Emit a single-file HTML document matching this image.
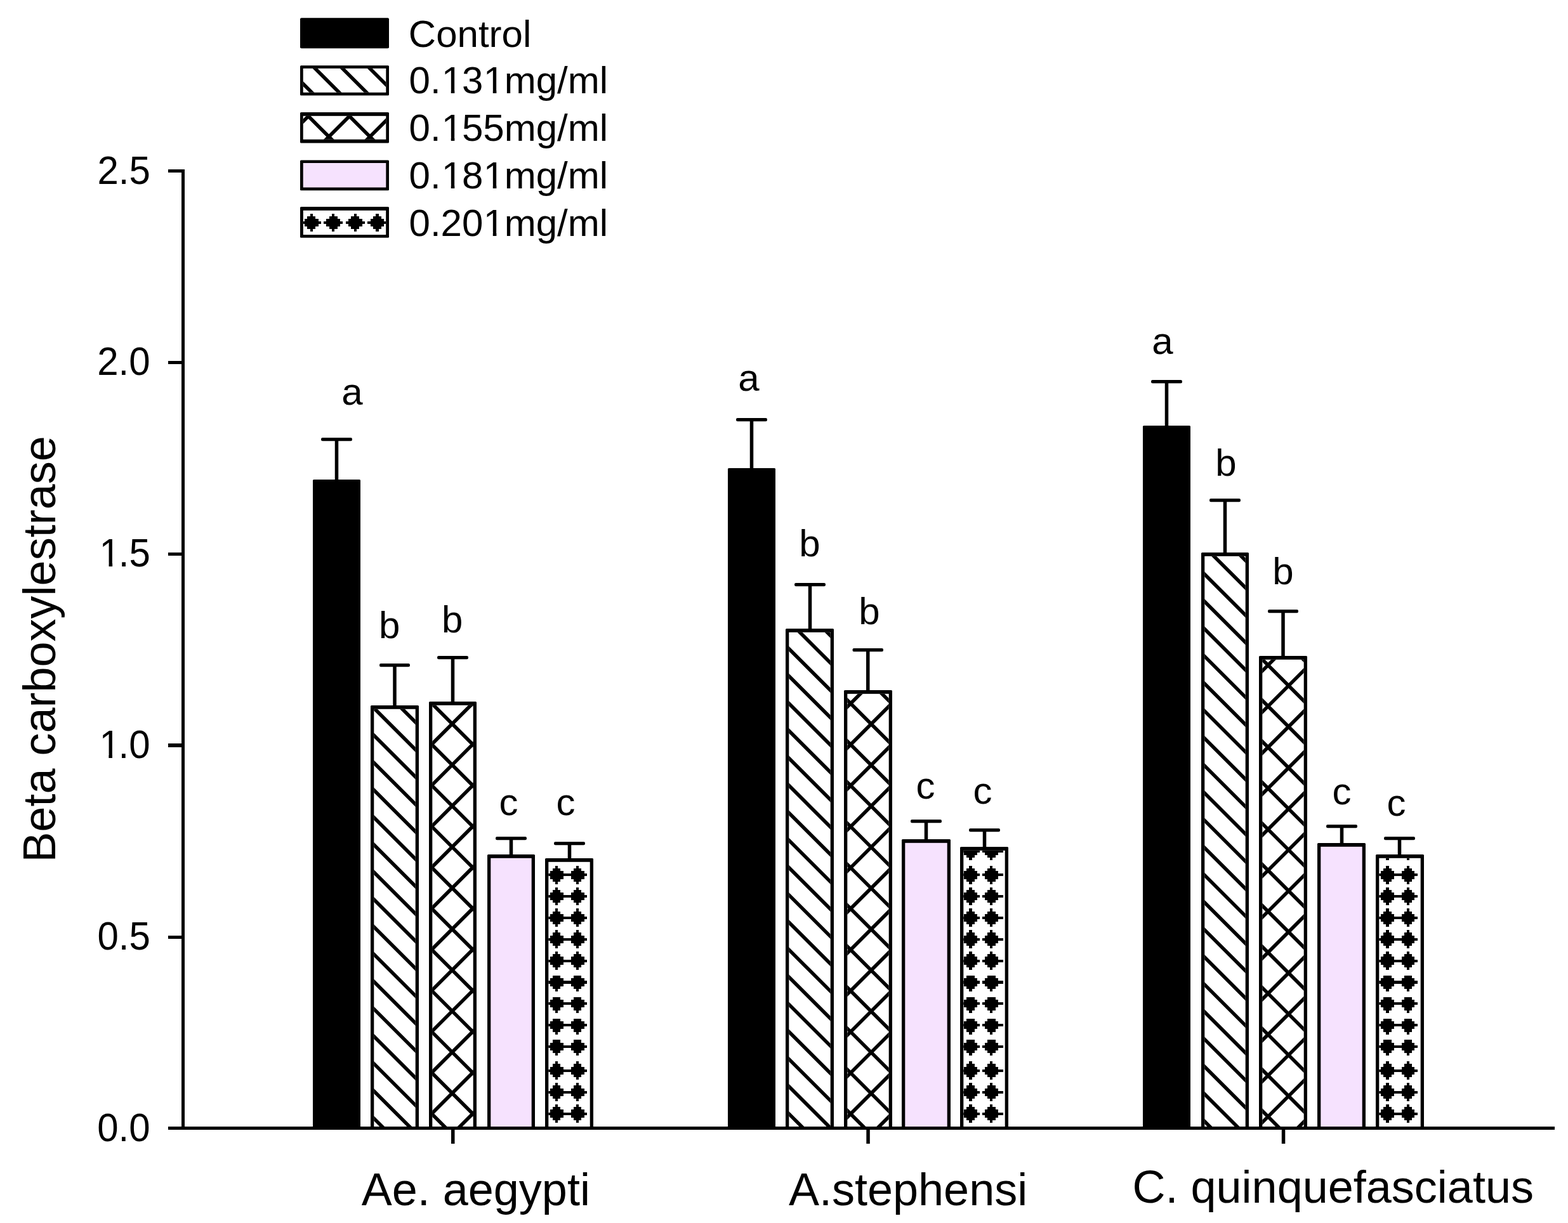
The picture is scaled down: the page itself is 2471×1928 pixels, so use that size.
<!DOCTYPE html>
<html lang="en">
<head>
<meta charset="utf-8">
<title>Beta carboxylestrase activity</title>
<style>
html,body{margin:0;padding:0;background:#fff;}
body{width:2471px;height:1928px;overflow:hidden;}
svg{display:block;}
text{font-family:"Liberation Sans",Arial,Helvetica,sans-serif;fill:#000;}
</style>
</head>
<body>
<svg width="2471" height="1928" viewBox="0 0 2471 1928">
<defs>
<clipPath id="c1"><rect x="589.3" y="1117.8" width="65.4" height="658.2"/></clipPath>
<clipPath id="c2"><rect x="681.3" y="1111.8" width="64.4" height="664.2"/></clipPath>
<clipPath id="c3"><rect x="681.3" y="1111.8" width="64.4" height="664.2"/></clipPath>
<clipPath id="c4"><rect x="864.3" y="1358.8" width="65.4" height="417.2"/></clipPath>
<clipPath id="c5"><rect x="1243.3" y="996.8" width="65.4" height="779.2"/></clipPath>
<clipPath id="c6"><rect x="1335.3" y="1093.8" width="65.4" height="682.2"/></clipPath>
<clipPath id="c7"><rect x="1335.3" y="1093.8" width="65.4" height="682.2"/></clipPath>
<clipPath id="c8"><rect x="1518.3" y="1340.8" width="65.4" height="435.2"/></clipPath>
<clipPath id="c9"><rect x="1898.3" y="876.8" width="64.4" height="899.2"/></clipPath>
<clipPath id="c10"><rect x="1989.3" y="1039.8" width="65.4" height="736.2"/></clipPath>
<clipPath id="c11"><rect x="1989.3" y="1039.8" width="65.4" height="736.2"/></clipPath>
<clipPath id="c12"><rect x="2173.3" y="1352.8" width="65.4" height="423.2"/></clipPath>
<clipPath id="c13"><rect x="477.7" y="107.9" width="130.6" height="37.9"/></clipPath>
<clipPath id="c14"><rect x="477.7" y="182.8" width="130.6" height="37"/></clipPath>
<clipPath id="c15"><rect x="477.7" y="182.8" width="130.6" height="37"/></clipPath>
<clipPath id="c16"><rect x="477.8" y="331.8" width="130.4" height="38.3"/></clipPath>
</defs>
<rect width="2471" height="1928" fill="#fff"/>
<g id="axes">
<rect x="286" y="267" width="5" height="1514" fill="#000"/>
<rect x="265" y="1776" width="2185" height="5" fill="#000"/>
<rect x="265" y="267" width="22" height="5" fill="#000"/>
<rect x="265" y="569" width="22" height="5" fill="#000"/>
<rect x="265" y="871" width="22" height="5" fill="#000"/>
<rect x="265" y="1172" width="22" height="6" fill="#000"/>
<rect x="265" y="1475" width="22" height="5" fill="#000"/>
<rect x="711" y="1780" width="5.5" height="23" fill="#000"/>
<rect x="1365.3" y="1780" width="5.5" height="23" fill="#000"/>
<rect x="2019.8" y="1780" width="5.5" height="23" fill="#000"/>
</g>
<g id="ytick-labels">
<text transform="translate(153.41 289.5) scale(1 1.035)" font-size="60">2.5</text>
<text transform="translate(153.24 591.3) scale(1 1.035)" font-size="60">2.0</text>
<text transform="translate(153.41 893.1) scale(1 1.035)" font-size="60" dx="3.2 -3.2">1.5</text>
<text transform="translate(153.24 1194.9) scale(1 1.035)" font-size="60" dx="3.2 -3.2">1.0</text>
<text transform="translate(153.41 1496.7) scale(1 1.035)" font-size="60">0.5</text>
<text transform="translate(153.24 1798.5) scale(1 1.035)" font-size="60">0.0</text>
<rect x="159.98" y="887.66" width="11.57" height="6.44" fill="#fff"/>
<rect x="177.15" y="887.66" width="11.1" height="6.44" fill="#fff"/>
<rect x="159.81" y="1189.46" width="11.57" height="6.44" fill="#fff"/>
<rect x="176.98" y="1189.46" width="11.1" height="6.44" fill="#fff"/>
</g>
<g class="group">
<rect x="527.75" y="691" width="5.5" height="68" fill="#000"/>
<rect x="506" y="690" width="49" height="5.3" rx="2.2" fill="#000"/>
<rect x="619.25" y="1047" width="5.5" height="68" fill="#000"/>
<rect x="598" y="1046" width="48" height="5.3" rx="2.2" fill="#000"/>
<rect x="710.75" y="1035" width="5.5" height="74" fill="#000"/>
<rect x="689" y="1034" width="49" height="5.3" rx="2.2" fill="#000"/>
<rect x="802.75" y="1320" width="5.5" height="30" fill="#000"/>
<rect x="781" y="1319" width="49" height="5.3" rx="2.2" fill="#000"/>
<rect x="894.75" y="1328" width="5.5" height="28" fill="#000"/>
<rect x="873" y="1327" width="49" height="5.3" rx="2.2" fill="#000"/>
<rect x="493" y="756" width="75" height="1025" rx="1.5" fill="#000"/>
<rect x="584" y="1112" width="76" height="669" rx="1.5" fill="#000"/>
<rect x="589.3" y="1117.8" width="65.4" height="658.2" fill="#fff"/>
<path clip-path="url(#c1)" stroke="#000" stroke-width="5.6" fill="none" d="M579.3 976.83L664.7 1062.23M579.3 1019.96L664.7 1105.36M579.3 1063.09L664.7 1148.49M579.3 1106.22L664.7 1191.62M579.3 1149.35L664.7 1234.75M579.3 1192.48L664.7 1277.88M579.3 1235.61L664.7 1321.01M579.3 1278.74L664.7 1364.14M579.3 1321.87L664.7 1407.27M579.3 1365L664.7 1450.4M579.3 1408.13L664.7 1493.53M579.3 1451.26L664.7 1536.66M579.3 1494.39L664.7 1579.79M579.3 1537.52L664.7 1622.92M579.3 1580.65L664.7 1666.05M579.3 1623.78L664.7 1709.18M579.3 1666.91L664.7 1752.31M579.3 1710.04L664.7 1795.44M579.3 1753.17L664.7 1838.57M579.3 1796.3L664.7 1881.7M579.3 1839.43L664.7 1924.83"/>
<rect x="676" y="1106" width="75" height="675" rx="1.5" fill="#000"/>
<rect x="681.3" y="1111.8" width="64.4" height="664.2" fill="#fff"/>
<path clip-path="url(#c2)" stroke="#000" stroke-width="5.6" fill="none" d="M671.3 970.4L755.7 1054.8M671.3 1035.1L755.7 1119.5M671.3 1099.8L755.7 1184.2M671.3 1164.5L755.7 1248.9M671.3 1229.2L755.7 1313.6M671.3 1293.9L755.7 1378.3M671.3 1358.6L755.7 1443M671.3 1423.3L755.7 1507.7M671.3 1488L755.7 1572.4M671.3 1552.7L755.7 1637.1M671.3 1617.4L755.7 1701.8M671.3 1682.1L755.7 1766.5M671.3 1746.8L755.7 1831.2M671.3 1811.5L755.7 1895.9M671.3 1876.2L755.7 1960.6"/>
<path clip-path="url(#c3)" stroke="#000" stroke-width="5.6" fill="none" d="M671.3 1053L755.7 968.6M671.3 1117.7L755.7 1033.3M671.3 1182.4L755.7 1098M671.3 1247.1L755.7 1162.7M671.3 1311.8L755.7 1227.4M671.3 1376.5L755.7 1292.1M671.3 1441.2L755.7 1356.8M671.3 1505.9L755.7 1421.5M671.3 1570.6L755.7 1486.2M671.3 1635.3L755.7 1550.9M671.3 1700L755.7 1615.6M671.3 1764.7L755.7 1680.3M671.3 1829.4L755.7 1745M671.3 1894.1L755.7 1809.7M671.3 1958.8L755.7 1874.4"/>
<rect x="768" y="1347" width="75" height="434" rx="1.5" fill="#000"/>
<rect x="773.3" y="1352.8" width="64.4" height="423.2" fill="#f6e2fe"/>
<rect x="859" y="1353" width="76" height="428" rx="1.5" fill="#000"/>
<rect x="864.3" y="1358.8" width="65.4" height="417.2" fill="#fff"/>
<path clip-path="url(#c4)" fill="#000" shape-rendering="crispEdges" d="M875.23 1364.95h4.13v4.13h-4.13zM871.1 1369.08h12.39v4.13h-12.39zM866.97 1373.21h20.65v4.13h-20.65zM862.84 1377.34h28.91v4.13h-28.91zM866.97 1381.47h20.65v4.13h-20.65zM871.1 1385.6h12.39v4.13h-12.39zM875.23 1389.73h4.13v4.13h-4.13zM908.13 1364.95h4.13v4.13h-4.13zM904 1369.08h12.39v4.13h-12.39zM899.88 1373.21h20.65v4.13h-20.65zM895.75 1377.34h28.91v4.13h-28.91zM899.88 1381.47h20.65v4.13h-20.65zM904 1385.6h12.39v4.13h-12.39zM908.13 1389.73h4.13v4.13h-4.13zM860 1377.34H924.8v4.13H860zM875.23 1398.55h4.13v4.13h-4.13zM871.1 1402.67h12.39v4.13h-12.39zM866.97 1406.81h20.65v4.13h-20.65zM862.84 1410.93h28.91v4.13h-28.91zM866.97 1415.07h20.65v4.13h-20.65zM871.1 1419.19h12.39v4.13h-12.39zM875.23 1423.33h4.13v4.13h-4.13zM908.13 1398.55h4.13v4.13h-4.13zM904 1402.67h12.39v4.13h-12.39zM899.88 1406.81h20.65v4.13h-20.65zM895.75 1410.93h28.91v4.13h-28.91zM899.88 1415.07h20.65v4.13h-20.65zM904 1419.19h12.39v4.13h-12.39zM908.13 1423.33h4.13v4.13h-4.13zM860 1410.93H924.8v4.13H860zM875.23 1432.45h4.13v4.13h-4.13zM871.1 1436.58h12.39v4.13h-12.39zM866.97 1440.71h20.65v4.13h-20.65zM862.84 1444.84h28.91v4.13h-28.91zM866.97 1448.97h20.65v4.13h-20.65zM871.1 1453.1h12.39v4.13h-12.39zM875.23 1457.23h4.13v4.13h-4.13zM908.13 1432.45h4.13v4.13h-4.13zM904 1436.58h12.39v4.13h-12.39zM899.88 1440.71h20.65v4.13h-20.65zM895.75 1444.84h28.91v4.13h-28.91zM899.88 1448.97h20.65v4.13h-20.65zM904 1453.1h12.39v4.13h-12.39zM908.13 1457.23h4.13v4.13h-4.13zM860 1444.84H924.8v4.13H860zM875.23 1466.25h4.13v4.13h-4.13zM871.1 1470.38h12.39v4.13h-12.39zM866.97 1474.51h20.65v4.13h-20.65zM862.84 1478.63h28.91v4.13h-28.91zM866.97 1482.77h20.65v4.13h-20.65zM871.1 1486.89h12.39v4.13h-12.39zM875.23 1491.03h4.13v4.13h-4.13zM908.13 1466.25h4.13v4.13h-4.13zM904 1470.38h12.39v4.13h-12.39zM899.88 1474.51h20.65v4.13h-20.65zM895.75 1478.63h28.91v4.13h-28.91zM899.88 1482.77h20.65v4.13h-20.65zM904 1486.89h12.39v4.13h-12.39zM908.13 1491.03h4.13v4.13h-4.13zM860 1478.63H924.8v4.13H860zM875.23 1500.14h4.13v4.13h-4.13zM871.1 1504.27h12.39v4.13h-12.39zM866.97 1508.4h20.65v4.13h-20.65zM862.84 1512.53h28.91v4.13h-28.91zM866.97 1516.66h20.65v4.13h-20.65zM871.1 1520.79h12.39v4.13h-12.39zM875.23 1524.92h4.13v4.13h-4.13zM908.13 1500.14h4.13v4.13h-4.13zM904 1504.27h12.39v4.13h-12.39zM899.88 1508.4h20.65v4.13h-20.65zM895.75 1512.53h28.91v4.13h-28.91zM899.88 1516.66h20.65v4.13h-20.65zM904 1520.79h12.39v4.13h-12.39zM908.13 1524.92h4.13v4.13h-4.13zM860 1512.53H924.8v4.13H860zM871.1 1538.17h12.39v4.13h-12.39zM866.97 1542.31h20.65v4.13h-20.65zM862.84 1546.43h28.91v4.13h-28.91zM866.97 1550.57h20.65v4.13h-20.65zM871.1 1554.69h12.39v4.13h-12.39zM875.23 1558.83h4.13v4.13h-4.13zM904 1538.17h12.39v4.13h-12.39zM899.88 1542.31h20.65v4.13h-20.65zM895.75 1546.43h28.91v4.13h-28.91zM899.88 1550.57h20.65v4.13h-20.65zM904 1554.69h12.39v4.13h-12.39zM908.13 1558.83h4.13v4.13h-4.13zM860 1546.43H924.8v4.13H860zM871.1 1571.88h12.39v4.13h-12.39zM866.97 1576.01h20.65v4.13h-20.65zM862.84 1580.13h28.91v4.13h-28.91zM866.97 1584.27h20.65v4.13h-20.65zM871.1 1588.39h12.39v4.13h-12.39zM875.23 1592.53h4.13v4.13h-4.13zM904 1571.88h12.39v4.13h-12.39zM899.88 1576.01h20.65v4.13h-20.65zM895.75 1580.13h28.91v4.13h-28.91zM899.88 1584.27h20.65v4.13h-20.65zM904 1588.39h12.39v4.13h-12.39zM908.13 1592.53h4.13v4.13h-4.13zM860 1580.13H924.8v4.13H860zM871.1 1605.88h12.39v4.13h-12.39zM866.97 1610.01h20.65v4.13h-20.65zM862.84 1614.13h28.91v4.13h-28.91zM866.97 1618.27h20.65v4.13h-20.65zM871.1 1622.39h12.39v4.13h-12.39zM875.23 1626.53h4.13v4.13h-4.13zM904 1605.88h12.39v4.13h-12.39zM899.88 1610.01h20.65v4.13h-20.65zM895.75 1614.13h28.91v4.13h-28.91zM899.88 1618.27h20.65v4.13h-20.65zM904 1622.39h12.39v4.13h-12.39zM908.13 1626.53h4.13v4.13h-4.13zM860 1614.13H924.8v4.13H860zM871.1 1639.38h12.39v4.13h-12.39zM866.97 1643.51h20.65v4.13h-20.65zM862.84 1647.63h28.91v4.13h-28.91zM866.97 1651.77h20.65v4.13h-20.65zM871.1 1655.89h12.39v4.13h-12.39zM875.23 1660.03h4.13v4.13h-4.13zM904 1639.38h12.39v4.13h-12.39zM899.88 1643.51h20.65v4.13h-20.65zM895.75 1647.63h28.91v4.13h-28.91zM899.88 1651.77h20.65v4.13h-20.65zM904 1655.89h12.39v4.13h-12.39zM908.13 1660.03h4.13v4.13h-4.13zM860 1647.63H924.8v4.13H860zM875.23 1673.35h4.13v4.13h-4.13zM871.1 1677.47h12.39v4.13h-12.39zM866.97 1681.61h20.65v4.13h-20.65zM862.84 1685.73h28.91v4.13h-28.91zM866.97 1689.87h20.65v4.13h-20.65zM871.1 1693.99h12.39v4.13h-12.39zM875.23 1698.12h4.13v4.13h-4.13zM908.13 1673.35h4.13v4.13h-4.13zM904 1677.47h12.39v4.13h-12.39zM899.88 1681.61h20.65v4.13h-20.65zM895.75 1685.73h28.91v4.13h-28.91zM899.88 1689.87h20.65v4.13h-20.65zM904 1693.99h12.39v4.13h-12.39zM908.13 1698.12h4.13v4.13h-4.13zM860 1685.73H924.8v4.13H860zM875.23 1707.25h4.13v4.13h-4.13zM871.1 1711.38h12.39v4.13h-12.39zM866.97 1715.51h20.65v4.13h-20.65zM862.84 1719.63h28.91v4.13h-28.91zM866.97 1723.77h20.65v4.13h-20.65zM871.1 1727.89h12.39v4.13h-12.39zM875.23 1732.03h4.13v4.13h-4.13zM908.13 1707.25h4.13v4.13h-4.13zM904 1711.38h12.39v4.13h-12.39zM899.88 1715.51h20.65v4.13h-20.65zM895.75 1719.63h28.91v4.13h-28.91zM899.88 1723.77h20.65v4.13h-20.65zM904 1727.89h12.39v4.13h-12.39zM908.13 1732.03h4.13v4.13h-4.13zM860 1719.63H924.8v4.13H860zM875.23 1741.14h4.13v4.13h-4.13zM871.1 1745.27h12.39v4.13h-12.39zM866.97 1749.4h20.65v4.13h-20.65zM862.84 1753.53h28.91v4.13h-28.91zM866.97 1757.66h20.65v4.13h-20.65zM871.1 1761.79h12.39v4.13h-12.39zM875.23 1765.92h4.13v4.13h-4.13zM908.13 1741.14h4.13v4.13h-4.13zM904 1745.27h12.39v4.13h-12.39zM899.88 1749.4h20.65v4.13h-20.65zM895.75 1753.53h28.91v4.13h-28.91zM899.88 1757.66h20.65v4.13h-20.65zM904 1761.79h12.39v4.13h-12.39zM908.13 1765.92h4.13v4.13h-4.13zM860 1753.53H924.8v4.13H860z"/>
</g>
<g class="group">
<rect x="1181.75" y="660" width="5.5" height="81" fill="#000"/>
<rect x="1160" y="659" width="49" height="5.3" rx="2.2" fill="#000"/>
<rect x="1273.75" y="920" width="5.5" height="74" fill="#000"/>
<rect x="1252" y="919" width="49" height="5.3" rx="2.2" fill="#000"/>
<rect x="1365" y="1023" width="5.5" height="68" fill="#000"/>
<rect x="1343.5" y="1022" width="48.5" height="5.3" rx="2.2" fill="#000"/>
<rect x="1456.75" y="1293" width="5.5" height="33" fill="#000"/>
<rect x="1435" y="1292" width="49" height="5.3" rx="2.2" fill="#000"/>
<rect x="1548.75" y="1307" width="5.5" height="31" fill="#000"/>
<rect x="1527" y="1306" width="49" height="5.3" rx="2.2" fill="#000"/>
<rect x="1147" y="738" width="75" height="1043" rx="1.5" fill="#000"/>
<rect x="1238" y="991" width="76" height="790" rx="1.5" fill="#000"/>
<rect x="1243.3" y="996.8" width="65.4" height="779.2" fill="#fff"/>
<path clip-path="url(#c5)" stroke="#000" stroke-width="5.6" fill="none" d="M1233.3 840.21L1318.7 925.61M1233.3 883.34L1318.7 968.74M1233.3 926.47L1318.7 1011.87M1233.3 969.6L1318.7 1055M1233.3 1012.73L1318.7 1098.13M1233.3 1055.86L1318.7 1141.26M1233.3 1098.99L1318.7 1184.39M1233.3 1142.12L1318.7 1227.52M1233.3 1185.25L1318.7 1270.65M1233.3 1228.38L1318.7 1313.78M1233.3 1271.51L1318.7 1356.91M1233.3 1314.64L1318.7 1400.04M1233.3 1357.77L1318.7 1443.17M1233.3 1400.9L1318.7 1486.3M1233.3 1444.03L1318.7 1529.43M1233.3 1487.16L1318.7 1572.56M1233.3 1530.29L1318.7 1615.69M1233.3 1573.42L1318.7 1658.82M1233.3 1616.55L1318.7 1701.95M1233.3 1659.68L1318.7 1745.08M1233.3 1702.81L1318.7 1788.21M1233.3 1745.94L1318.7 1831.34M1233.3 1789.07L1318.7 1874.47M1233.3 1832.2L1318.7 1917.6"/>
<rect x="1330" y="1088" width="76" height="693" rx="1.5" fill="#000"/>
<rect x="1335.3" y="1093.8" width="65.4" height="682.2" fill="#fff"/>
<path clip-path="url(#c6)" stroke="#000" stroke-width="5.6" fill="none" d="M1325.3 899.75L1410.7 985.15M1325.3 964.45L1410.7 1049.85M1325.3 1029.15L1410.7 1114.55M1325.3 1093.85L1410.7 1179.25M1325.3 1158.55L1410.7 1243.95M1325.3 1223.25L1410.7 1308.65M1325.3 1287.95L1410.7 1373.35M1325.3 1352.65L1410.7 1438.05M1325.3 1417.35L1410.7 1502.75M1325.3 1482.05L1410.7 1567.45M1325.3 1546.75L1410.7 1632.15M1325.3 1611.45L1410.7 1696.85M1325.3 1676.15L1410.7 1761.55M1325.3 1740.85L1410.7 1826.25M1325.3 1805.55L1410.7 1890.95M1325.3 1870.25L1410.7 1955.65"/>
<path clip-path="url(#c7)" stroke="#000" stroke-width="5.6" fill="none" d="M1325.3 994.85L1410.7 909.45M1325.3 1059.55L1410.7 974.15M1325.3 1124.25L1410.7 1038.85M1325.3 1188.95L1410.7 1103.55M1325.3 1253.65L1410.7 1168.25M1325.3 1318.35L1410.7 1232.95M1325.3 1383.05L1410.7 1297.65M1325.3 1447.75L1410.7 1362.35M1325.3 1512.45L1410.7 1427.05M1325.3 1577.15L1410.7 1491.75M1325.3 1641.85L1410.7 1556.45M1325.3 1706.55L1410.7 1621.15M1325.3 1771.25L1410.7 1685.85M1325.3 1835.95L1410.7 1750.55M1325.3 1900.65L1410.7 1815.25M1325.3 1965.35L1410.7 1879.95"/>
<rect x="1421" y="1323" width="77" height="458" rx="1.5" fill="#000"/>
<rect x="1426.3" y="1328.8" width="66.4" height="447.2" fill="#f6e2fe"/>
<rect x="1513" y="1335" width="76" height="446" rx="1.5" fill="#000"/>
<rect x="1518.3" y="1340.8" width="65.4" height="435.2" fill="#fff"/>
<path clip-path="url(#c8)" fill="#000" shape-rendering="crispEdges" d="M1527.43 1327.25h4.13v4.13h-4.13zM1523.31 1331.38h12.39v4.13h-12.39zM1519.17 1335.51h20.65v4.13h-20.65zM1515.05 1339.63h28.91v4.13h-28.91zM1519.17 1343.77h20.65v4.13h-20.65zM1523.31 1347.89h12.39v4.13h-12.39zM1527.43 1352.03h4.13v4.13h-4.13zM1560.34 1327.25h4.13v4.13h-4.13zM1556.21 1331.38h12.39v4.13h-12.39zM1552.08 1335.51h20.65v4.13h-20.65zM1547.95 1339.63h28.91v4.13h-28.91zM1552.08 1343.77h20.65v4.13h-20.65zM1556.21 1347.89h12.39v4.13h-12.39zM1560.34 1352.03h4.13v4.13h-4.13zM1514 1339.63H1544v4.13H1514zM1548.5 1339.63H1580.8v4.13H1548.5zM1527.43 1364.95h4.13v4.13h-4.13zM1523.31 1369.08h12.39v4.13h-12.39zM1519.17 1373.21h20.65v4.13h-20.65zM1515.05 1377.34h28.91v4.13h-28.91zM1519.17 1381.47h20.65v4.13h-20.65zM1523.31 1385.6h12.39v4.13h-12.39zM1527.43 1389.73h4.13v4.13h-4.13zM1560.34 1364.95h4.13v4.13h-4.13zM1556.21 1369.08h12.39v4.13h-12.39zM1552.08 1373.21h20.65v4.13h-20.65zM1547.95 1377.34h28.91v4.13h-28.91zM1552.08 1381.47h20.65v4.13h-20.65zM1556.21 1385.6h12.39v4.13h-12.39zM1560.34 1389.73h4.13v4.13h-4.13zM1514 1377.34H1544v4.13H1514zM1548.5 1377.34H1580.8v4.13H1548.5zM1527.43 1398.55h4.13v4.13h-4.13zM1523.31 1402.67h12.39v4.13h-12.39zM1519.17 1406.81h20.65v4.13h-20.65zM1515.05 1410.93h28.91v4.13h-28.91zM1519.17 1415.07h20.65v4.13h-20.65zM1523.31 1419.19h12.39v4.13h-12.39zM1527.43 1423.33h4.13v4.13h-4.13zM1560.34 1398.55h4.13v4.13h-4.13zM1556.21 1402.67h12.39v4.13h-12.39zM1552.08 1406.81h20.65v4.13h-20.65zM1547.95 1410.93h28.91v4.13h-28.91zM1552.08 1415.07h20.65v4.13h-20.65zM1556.21 1419.19h12.39v4.13h-12.39zM1560.34 1423.33h4.13v4.13h-4.13zM1514 1410.93H1544v4.13H1514zM1548.5 1410.93H1580.8v4.13H1548.5zM1527.43 1432.45h4.13v4.13h-4.13zM1523.31 1436.58h12.39v4.13h-12.39zM1519.17 1440.71h20.65v4.13h-20.65zM1515.05 1444.84h28.91v4.13h-28.91zM1519.17 1448.97h20.65v4.13h-20.65zM1523.31 1453.1h12.39v4.13h-12.39zM1527.43 1457.23h4.13v4.13h-4.13zM1560.34 1432.45h4.13v4.13h-4.13zM1556.21 1436.58h12.39v4.13h-12.39zM1552.08 1440.71h20.65v4.13h-20.65zM1547.95 1444.84h28.91v4.13h-28.91zM1552.08 1448.97h20.65v4.13h-20.65zM1556.21 1453.1h12.39v4.13h-12.39zM1560.34 1457.23h4.13v4.13h-4.13zM1514 1444.84H1544v4.13H1514zM1548.5 1444.84H1580.8v4.13H1548.5zM1527.43 1466.25h4.13v4.13h-4.13zM1523.31 1470.38h12.39v4.13h-12.39zM1519.17 1474.51h20.65v4.13h-20.65zM1515.05 1478.63h28.91v4.13h-28.91zM1519.17 1482.77h20.65v4.13h-20.65zM1523.31 1486.89h12.39v4.13h-12.39zM1527.43 1491.03h4.13v4.13h-4.13zM1560.34 1466.25h4.13v4.13h-4.13zM1556.21 1470.38h12.39v4.13h-12.39zM1552.08 1474.51h20.65v4.13h-20.65zM1547.95 1478.63h28.91v4.13h-28.91zM1552.08 1482.77h20.65v4.13h-20.65zM1556.21 1486.89h12.39v4.13h-12.39zM1560.34 1491.03h4.13v4.13h-4.13zM1514 1478.63H1544v4.13H1514zM1548.5 1478.63H1580.8v4.13H1548.5zM1527.43 1500.14h4.13v4.13h-4.13zM1523.31 1504.27h12.39v4.13h-12.39zM1519.17 1508.4h20.65v4.13h-20.65zM1515.05 1512.53h28.91v4.13h-28.91zM1519.17 1516.66h20.65v4.13h-20.65zM1523.31 1520.79h12.39v4.13h-12.39zM1527.43 1524.92h4.13v4.13h-4.13zM1560.34 1500.14h4.13v4.13h-4.13zM1556.21 1504.27h12.39v4.13h-12.39zM1552.08 1508.4h20.65v4.13h-20.65zM1547.95 1512.53h28.91v4.13h-28.91zM1552.08 1516.66h20.65v4.13h-20.65zM1556.21 1520.79h12.39v4.13h-12.39zM1560.34 1524.92h4.13v4.13h-4.13zM1514 1512.53H1544v4.13H1514zM1548.5 1512.53H1580.8v4.13H1548.5zM1523.31 1538.17h12.39v4.13h-12.39zM1519.17 1542.31h20.65v4.13h-20.65zM1515.05 1546.43h28.91v4.13h-28.91zM1519.17 1550.57h20.65v4.13h-20.65zM1523.31 1554.69h12.39v4.13h-12.39zM1527.43 1558.83h4.13v4.13h-4.13zM1556.21 1538.17h12.39v4.13h-12.39zM1552.08 1542.31h20.65v4.13h-20.65zM1547.95 1546.43h28.91v4.13h-28.91zM1552.08 1550.57h20.65v4.13h-20.65zM1556.21 1554.69h12.39v4.13h-12.39zM1560.34 1558.83h4.13v4.13h-4.13zM1514 1546.43H1544v4.13H1514zM1548.5 1546.43H1580.8v4.13H1548.5zM1523.31 1571.88h12.39v4.13h-12.39zM1519.17 1576.01h20.65v4.13h-20.65zM1515.05 1580.13h28.91v4.13h-28.91zM1519.17 1584.27h20.65v4.13h-20.65zM1523.31 1588.39h12.39v4.13h-12.39zM1527.43 1592.53h4.13v4.13h-4.13zM1556.21 1571.88h12.39v4.13h-12.39zM1552.08 1576.01h20.65v4.13h-20.65zM1547.95 1580.13h28.91v4.13h-28.91zM1552.08 1584.27h20.65v4.13h-20.65zM1556.21 1588.39h12.39v4.13h-12.39zM1560.34 1592.53h4.13v4.13h-4.13zM1514 1580.13H1544v4.13H1514zM1548.5 1580.13H1580.8v4.13H1548.5zM1523.31 1605.88h12.39v4.13h-12.39zM1519.17 1610.01h20.65v4.13h-20.65zM1515.05 1614.13h28.91v4.13h-28.91zM1519.17 1618.27h20.65v4.13h-20.65zM1523.31 1622.39h12.39v4.13h-12.39zM1527.43 1626.53h4.13v4.13h-4.13zM1556.21 1605.88h12.39v4.13h-12.39zM1552.08 1610.01h20.65v4.13h-20.65zM1547.95 1614.13h28.91v4.13h-28.91zM1552.08 1618.27h20.65v4.13h-20.65zM1556.21 1622.39h12.39v4.13h-12.39zM1560.34 1626.53h4.13v4.13h-4.13zM1514 1614.13H1544v4.13H1514zM1548.5 1614.13H1580.8v4.13H1548.5zM1523.31 1639.38h12.39v4.13h-12.39zM1519.17 1643.51h20.65v4.13h-20.65zM1515.05 1647.63h28.91v4.13h-28.91zM1519.17 1651.77h20.65v4.13h-20.65zM1523.31 1655.89h12.39v4.13h-12.39zM1527.43 1660.03h4.13v4.13h-4.13zM1556.21 1639.38h12.39v4.13h-12.39zM1552.08 1643.51h20.65v4.13h-20.65zM1547.95 1647.63h28.91v4.13h-28.91zM1552.08 1651.77h20.65v4.13h-20.65zM1556.21 1655.89h12.39v4.13h-12.39zM1560.34 1660.03h4.13v4.13h-4.13zM1514 1647.63H1544v4.13H1514zM1548.5 1647.63H1580.8v4.13H1548.5zM1527.43 1673.35h4.13v4.13h-4.13zM1523.31 1677.47h12.39v4.13h-12.39zM1519.17 1681.61h20.65v4.13h-20.65zM1515.05 1685.73h28.91v4.13h-28.91zM1519.17 1689.87h20.65v4.13h-20.65zM1523.31 1693.99h12.39v4.13h-12.39zM1527.43 1698.12h4.13v4.13h-4.13zM1560.34 1673.35h4.13v4.13h-4.13zM1556.21 1677.47h12.39v4.13h-12.39zM1552.08 1681.61h20.65v4.13h-20.65zM1547.95 1685.73h28.91v4.13h-28.91zM1552.08 1689.87h20.65v4.13h-20.65zM1556.21 1693.99h12.39v4.13h-12.39zM1560.34 1698.12h4.13v4.13h-4.13zM1514 1685.73H1544v4.13H1514zM1548.5 1685.73H1580.8v4.13H1548.5zM1527.43 1707.25h4.13v4.13h-4.13zM1523.31 1711.38h12.39v4.13h-12.39zM1519.17 1715.51h20.65v4.13h-20.65zM1515.05 1719.63h28.91v4.13h-28.91zM1519.17 1723.77h20.65v4.13h-20.65zM1523.31 1727.89h12.39v4.13h-12.39zM1527.43 1732.03h4.13v4.13h-4.13zM1560.34 1707.25h4.13v4.13h-4.13zM1556.21 1711.38h12.39v4.13h-12.39zM1552.08 1715.51h20.65v4.13h-20.65zM1547.95 1719.63h28.91v4.13h-28.91zM1552.08 1723.77h20.65v4.13h-20.65zM1556.21 1727.89h12.39v4.13h-12.39zM1560.34 1732.03h4.13v4.13h-4.13zM1514 1719.63H1544v4.13H1514zM1548.5 1719.63H1580.8v4.13H1548.5zM1527.43 1741.14h4.13v4.13h-4.13zM1523.31 1745.27h12.39v4.13h-12.39zM1519.17 1749.4h20.65v4.13h-20.65zM1515.05 1753.53h28.91v4.13h-28.91zM1519.17 1757.66h20.65v4.13h-20.65zM1523.31 1761.79h12.39v4.13h-12.39zM1527.43 1765.92h4.13v4.13h-4.13zM1560.34 1741.14h4.13v4.13h-4.13zM1556.21 1745.27h12.39v4.13h-12.39zM1552.08 1749.4h20.65v4.13h-20.65zM1547.95 1753.53h28.91v4.13h-28.91zM1552.08 1757.66h20.65v4.13h-20.65zM1556.21 1761.79h12.39v4.13h-12.39zM1560.34 1765.92h4.13v4.13h-4.13zM1514 1753.53H1544v4.13H1514zM1548.5 1753.53H1580.8v4.13H1548.5z"/>
</g>
<g class="group">
<rect x="1835.75" y="600" width="5.5" height="74" fill="#000"/>
<rect x="1814" y="599" width="49" height="5.3" rx="2.2" fill="#000"/>
<rect x="1927.75" y="787" width="5.5" height="87" fill="#000"/>
<rect x="1906" y="786" width="49" height="5.3" rx="2.2" fill="#000"/>
<rect x="2019.25" y="962" width="5.5" height="75" fill="#000"/>
<rect x="1998" y="961" width="48" height="5.3" rx="2.2" fill="#000"/>
<rect x="2111.75" y="1301" width="5.5" height="31" fill="#000"/>
<rect x="2090" y="1300" width="49" height="5.3" rx="2.2" fill="#000"/>
<rect x="2202.75" y="1320" width="5.5" height="30" fill="#000"/>
<rect x="2181" y="1319" width="49" height="5.3" rx="2.2" fill="#000"/>
<rect x="1801" y="671" width="75" height="1110" rx="1.5" fill="#000"/>
<rect x="1893" y="871" width="75" height="910" rx="1.5" fill="#000"/>
<rect x="1898.3" y="876.8" width="64.4" height="899.2" fill="#fff"/>
<path clip-path="url(#c9)" stroke="#000" stroke-width="5.6" fill="none" d="M1888.3 722.73L1972.7 807.13M1888.3 765.86L1972.7 850.26M1888.3 808.99L1972.7 893.39M1888.3 852.12L1972.7 936.52M1888.3 895.25L1972.7 979.65M1888.3 938.38L1972.7 1022.78M1888.3 981.51L1972.7 1065.91M1888.3 1024.64L1972.7 1109.04M1888.3 1067.77L1972.7 1152.17M1888.3 1110.9L1972.7 1195.3M1888.3 1154.03L1972.7 1238.43M1888.3 1197.16L1972.7 1281.56M1888.3 1240.29L1972.7 1324.69M1888.3 1283.42L1972.7 1367.82M1888.3 1326.55L1972.7 1410.95M1888.3 1369.68L1972.7 1454.08M1888.3 1412.81L1972.7 1497.21M1888.3 1455.94L1972.7 1540.34M1888.3 1499.07L1972.7 1583.47M1888.3 1542.2L1972.7 1626.6M1888.3 1585.33L1972.7 1669.73M1888.3 1628.46L1972.7 1712.86M1888.3 1671.59L1972.7 1755.99M1888.3 1714.72L1972.7 1799.12M1888.3 1757.85L1972.7 1842.25M1888.3 1800.98L1972.7 1885.38M1888.3 1844.11L1972.7 1928.51"/>
<rect x="1984" y="1034" width="76" height="747" rx="1.5" fill="#000"/>
<rect x="1989.3" y="1039.8" width="65.4" height="736.2" fill="#fff"/>
<path clip-path="url(#c10)" stroke="#000" stroke-width="5.6" fill="none" d="M1979.3 835.5L2064.7 920.9M1979.3 900.2L2064.7 985.6M1979.3 964.9L2064.7 1050.3M1979.3 1029.6L2064.7 1115M1979.3 1094.3L2064.7 1179.7M1979.3 1159L2064.7 1244.4M1979.3 1223.7L2064.7 1309.1M1979.3 1288.4L2064.7 1373.8M1979.3 1353.1L2064.7 1438.5M1979.3 1417.8L2064.7 1503.2M1979.3 1482.5L2064.7 1567.9M1979.3 1547.2L2064.7 1632.6M1979.3 1611.9L2064.7 1697.3M1979.3 1676.6L2064.7 1762M1979.3 1741.3L2064.7 1826.7M1979.3 1806L2064.7 1891.4M1979.3 1870.7L2064.7 1956.1"/>
<path clip-path="url(#c11)" stroke="#000" stroke-width="5.6" fill="none" d="M1979.3 938.2L2064.7 852.8M1979.3 1002.9L2064.7 917.5M1979.3 1067.6L2064.7 982.2M1979.3 1132.3L2064.7 1046.9M1979.3 1197L2064.7 1111.6M1979.3 1261.7L2064.7 1176.3M1979.3 1326.4L2064.7 1241M1979.3 1391.1L2064.7 1305.7M1979.3 1455.8L2064.7 1370.4M1979.3 1520.5L2064.7 1435.1M1979.3 1585.2L2064.7 1499.8M1979.3 1649.9L2064.7 1564.5M1979.3 1714.6L2064.7 1629.2M1979.3 1779.3L2064.7 1693.9M1979.3 1844L2064.7 1758.6M1979.3 1908.7L2064.7 1823.3M1979.3 1973.4L2064.7 1888"/>
<rect x="2076" y="1329" width="76" height="452" rx="1.5" fill="#000"/>
<rect x="2081.3" y="1334.8" width="65.4" height="441.2" fill="#f6e2fe"/>
<rect x="2168" y="1347" width="76" height="434" rx="1.5" fill="#000"/>
<rect x="2173.3" y="1352.8" width="65.4" height="423.2" fill="#fff"/>
<path clip-path="url(#c12)" fill="#000" shape-rendering="crispEdges" d="M2184.43 1327.25h4.13v4.13h-4.13zM2180.3 1331.38h12.39v4.13h-12.39zM2176.18 1335.51h20.65v4.13h-20.65zM2172.05 1339.63h28.91v4.13h-28.91zM2176.18 1343.77h20.65v4.13h-20.65zM2180.3 1347.89h12.39v4.13h-12.39zM2184.43 1352.03h4.13v4.13h-4.13zM2217.03 1327.25h4.13v4.13h-4.13zM2212.9 1331.38h12.39v4.13h-12.39zM2208.78 1335.51h20.65v4.13h-20.65zM2204.64 1339.63h28.91v4.13h-28.91zM2208.78 1343.77h20.65v4.13h-20.65zM2212.9 1347.89h12.39v4.13h-12.39zM2217.03 1352.03h4.13v4.13h-4.13zM2169 1339.63H2233.9v4.13H2169zM2184.43 1364.95h4.13v4.13h-4.13zM2180.3 1369.08h12.39v4.13h-12.39zM2176.18 1373.21h20.65v4.13h-20.65zM2172.05 1377.34h28.91v4.13h-28.91zM2176.18 1381.47h20.65v4.13h-20.65zM2180.3 1385.6h12.39v4.13h-12.39zM2184.43 1389.73h4.13v4.13h-4.13zM2217.03 1364.95h4.13v4.13h-4.13zM2212.9 1369.08h12.39v4.13h-12.39zM2208.78 1373.21h20.65v4.13h-20.65zM2204.64 1377.34h28.91v4.13h-28.91zM2208.78 1381.47h20.65v4.13h-20.65zM2212.9 1385.6h12.39v4.13h-12.39zM2217.03 1389.73h4.13v4.13h-4.13zM2169 1377.34H2233.9v4.13H2169zM2184.43 1398.55h4.13v4.13h-4.13zM2180.3 1402.67h12.39v4.13h-12.39zM2176.18 1406.81h20.65v4.13h-20.65zM2172.05 1410.93h28.91v4.13h-28.91zM2176.18 1415.07h20.65v4.13h-20.65zM2180.3 1419.19h12.39v4.13h-12.39zM2184.43 1423.33h4.13v4.13h-4.13zM2217.03 1398.55h4.13v4.13h-4.13zM2212.9 1402.67h12.39v4.13h-12.39zM2208.78 1406.81h20.65v4.13h-20.65zM2204.64 1410.93h28.91v4.13h-28.91zM2208.78 1415.07h20.65v4.13h-20.65zM2212.9 1419.19h12.39v4.13h-12.39zM2217.03 1423.33h4.13v4.13h-4.13zM2169 1410.93H2233.9v4.13H2169zM2184.43 1432.45h4.13v4.13h-4.13zM2180.3 1436.58h12.39v4.13h-12.39zM2176.18 1440.71h20.65v4.13h-20.65zM2172.05 1444.84h28.91v4.13h-28.91zM2176.18 1448.97h20.65v4.13h-20.65zM2180.3 1453.1h12.39v4.13h-12.39zM2184.43 1457.23h4.13v4.13h-4.13zM2217.03 1432.45h4.13v4.13h-4.13zM2212.9 1436.58h12.39v4.13h-12.39zM2208.78 1440.71h20.65v4.13h-20.65zM2204.64 1444.84h28.91v4.13h-28.91zM2208.78 1448.97h20.65v4.13h-20.65zM2212.9 1453.1h12.39v4.13h-12.39zM2217.03 1457.23h4.13v4.13h-4.13zM2169 1444.84H2233.9v4.13H2169zM2184.43 1466.25h4.13v4.13h-4.13zM2180.3 1470.38h12.39v4.13h-12.39zM2176.18 1474.51h20.65v4.13h-20.65zM2172.05 1478.63h28.91v4.13h-28.91zM2176.18 1482.77h20.65v4.13h-20.65zM2180.3 1486.89h12.39v4.13h-12.39zM2184.43 1491.03h4.13v4.13h-4.13zM2217.03 1466.25h4.13v4.13h-4.13zM2212.9 1470.38h12.39v4.13h-12.39zM2208.78 1474.51h20.65v4.13h-20.65zM2204.64 1478.63h28.91v4.13h-28.91zM2208.78 1482.77h20.65v4.13h-20.65zM2212.9 1486.89h12.39v4.13h-12.39zM2217.03 1491.03h4.13v4.13h-4.13zM2169 1478.63H2233.9v4.13H2169zM2184.43 1500.14h4.13v4.13h-4.13zM2180.3 1504.27h12.39v4.13h-12.39zM2176.18 1508.4h20.65v4.13h-20.65zM2172.05 1512.53h28.91v4.13h-28.91zM2176.18 1516.66h20.65v4.13h-20.65zM2180.3 1520.79h12.39v4.13h-12.39zM2184.43 1524.92h4.13v4.13h-4.13zM2217.03 1500.14h4.13v4.13h-4.13zM2212.9 1504.27h12.39v4.13h-12.39zM2208.78 1508.4h20.65v4.13h-20.65zM2204.64 1512.53h28.91v4.13h-28.91zM2208.78 1516.66h20.65v4.13h-20.65zM2212.9 1520.79h12.39v4.13h-12.39zM2217.03 1524.92h4.13v4.13h-4.13zM2169 1512.53H2233.9v4.13H2169zM2180.3 1538.17h12.39v4.13h-12.39zM2176.18 1542.31h20.65v4.13h-20.65zM2172.05 1546.43h28.91v4.13h-28.91zM2176.18 1550.57h20.65v4.13h-20.65zM2180.3 1554.69h12.39v4.13h-12.39zM2184.43 1558.83h4.13v4.13h-4.13zM2212.9 1538.17h12.39v4.13h-12.39zM2208.78 1542.31h20.65v4.13h-20.65zM2204.64 1546.43h28.91v4.13h-28.91zM2208.78 1550.57h20.65v4.13h-20.65zM2212.9 1554.69h12.39v4.13h-12.39zM2217.03 1558.83h4.13v4.13h-4.13zM2169 1546.43H2233.9v4.13H2169zM2180.3 1571.88h12.39v4.13h-12.39zM2176.18 1576.01h20.65v4.13h-20.65zM2172.05 1580.13h28.91v4.13h-28.91zM2176.18 1584.27h20.65v4.13h-20.65zM2180.3 1588.39h12.39v4.13h-12.39zM2184.43 1592.53h4.13v4.13h-4.13zM2212.9 1571.88h12.39v4.13h-12.39zM2208.78 1576.01h20.65v4.13h-20.65zM2204.64 1580.13h28.91v4.13h-28.91zM2208.78 1584.27h20.65v4.13h-20.65zM2212.9 1588.39h12.39v4.13h-12.39zM2217.03 1592.53h4.13v4.13h-4.13zM2169 1580.13H2233.9v4.13H2169zM2180.3 1605.88h12.39v4.13h-12.39zM2176.18 1610.01h20.65v4.13h-20.65zM2172.05 1614.13h28.91v4.13h-28.91zM2176.18 1618.27h20.65v4.13h-20.65zM2180.3 1622.39h12.39v4.13h-12.39zM2184.43 1626.53h4.13v4.13h-4.13zM2212.9 1605.88h12.39v4.13h-12.39zM2208.78 1610.01h20.65v4.13h-20.65zM2204.64 1614.13h28.91v4.13h-28.91zM2208.78 1618.27h20.65v4.13h-20.65zM2212.9 1622.39h12.39v4.13h-12.39zM2217.03 1626.53h4.13v4.13h-4.13zM2169 1614.13H2233.9v4.13H2169zM2180.3 1639.38h12.39v4.13h-12.39zM2176.18 1643.51h20.65v4.13h-20.65zM2172.05 1647.63h28.91v4.13h-28.91zM2176.18 1651.77h20.65v4.13h-20.65zM2180.3 1655.89h12.39v4.13h-12.39zM2184.43 1660.03h4.13v4.13h-4.13zM2212.9 1639.38h12.39v4.13h-12.39zM2208.78 1643.51h20.65v4.13h-20.65zM2204.64 1647.63h28.91v4.13h-28.91zM2208.78 1651.77h20.65v4.13h-20.65zM2212.9 1655.89h12.39v4.13h-12.39zM2217.03 1660.03h4.13v4.13h-4.13zM2169 1647.63H2233.9v4.13H2169zM2184.43 1673.35h4.13v4.13h-4.13zM2180.3 1677.47h12.39v4.13h-12.39zM2176.18 1681.61h20.65v4.13h-20.65zM2172.05 1685.73h28.91v4.13h-28.91zM2176.18 1689.87h20.65v4.13h-20.65zM2180.3 1693.99h12.39v4.13h-12.39zM2184.43 1698.12h4.13v4.13h-4.13zM2217.03 1673.35h4.13v4.13h-4.13zM2212.9 1677.47h12.39v4.13h-12.39zM2208.78 1681.61h20.65v4.13h-20.65zM2204.64 1685.73h28.91v4.13h-28.91zM2208.78 1689.87h20.65v4.13h-20.65zM2212.9 1693.99h12.39v4.13h-12.39zM2217.03 1698.12h4.13v4.13h-4.13zM2169 1685.73H2233.9v4.13H2169zM2184.43 1707.25h4.13v4.13h-4.13zM2180.3 1711.38h12.39v4.13h-12.39zM2176.18 1715.51h20.65v4.13h-20.65zM2172.05 1719.63h28.91v4.13h-28.91zM2176.18 1723.77h20.65v4.13h-20.65zM2180.3 1727.89h12.39v4.13h-12.39zM2184.43 1732.03h4.13v4.13h-4.13zM2217.03 1707.25h4.13v4.13h-4.13zM2212.9 1711.38h12.39v4.13h-12.39zM2208.78 1715.51h20.65v4.13h-20.65zM2204.64 1719.63h28.91v4.13h-28.91zM2208.78 1723.77h20.65v4.13h-20.65zM2212.9 1727.89h12.39v4.13h-12.39zM2217.03 1732.03h4.13v4.13h-4.13zM2169 1719.63H2233.9v4.13H2169zM2184.43 1741.14h4.13v4.13h-4.13zM2180.3 1745.27h12.39v4.13h-12.39zM2176.18 1749.4h20.65v4.13h-20.65zM2172.05 1753.53h28.91v4.13h-28.91zM2176.18 1757.66h20.65v4.13h-20.65zM2180.3 1761.79h12.39v4.13h-12.39zM2184.43 1765.92h4.13v4.13h-4.13zM2217.03 1741.14h4.13v4.13h-4.13zM2212.9 1745.27h12.39v4.13h-12.39zM2208.78 1749.4h20.65v4.13h-20.65zM2204.64 1753.53h28.91v4.13h-28.91zM2208.78 1757.66h20.65v4.13h-20.65zM2212.9 1761.79h12.39v4.13h-12.39zM2217.03 1765.92h4.13v4.13h-4.13zM2169 1753.53H2233.9v4.13H2169z"/>
</g>
<g id="letters">
<text x="538.36" y="638.41" font-size="60">a</text>
<text x="597.09" y="1006.31" font-size="60">b</text>
<text x="695.99" y="997.41" font-size="60">b</text>
<text x="786.47" y="1285.41" font-size="60">c</text>
<text x="876.52" y="1285.41" font-size="60">c</text>
<text x="1163.36" y="616.21" font-size="60">a</text>
<text x="1259.14" y="876.51" font-size="60">b</text>
<text x="1353.19" y="984.41" font-size="60">b</text>
<text x="1443.52" y="1258.51" font-size="60">c</text>
<text x="1533.42" y="1267.41" font-size="60">c</text>
<text x="1815.31" y="557.51" font-size="60">a</text>
<text x="1915.24" y="750.41" font-size="60">b</text>
<text x="2005.14" y="921.41" font-size="60">b</text>
<text x="2099.42" y="1267.51" font-size="60">c</text>
<text x="2185.62" y="1285.61" font-size="60">c</text>
</g>
<g id="legend">
<rect x="473" y="28.2" width="140" height="48.1" rx="2" fill="#000"/>
<rect x="473" y="103.2" width="140" height="47.4" rx="1.5" fill="#000"/>
<rect x="477.7" y="107.9" width="130.6" height="37.9" fill="#fff"/>
<path clip-path="url(#c13)" stroke="#000" stroke-width="5.6" fill="none" d="M467.7 -93.52L618.3 57.08M467.7 -50.39L618.3 100.21M467.7 -7.26L618.3 143.34M467.7 35.87L618.3 186.47M467.7 79L618.3 229.6M467.7 122.13L618.3 272.73M467.7 165.26L618.3 315.86M467.7 208.39L618.3 358.99"/>
<rect x="473" y="177.1" width="140" height="48.4" rx="1.5" fill="#000"/>
<rect x="477.7" y="182.8" width="130.6" height="37" fill="#fff"/>
<path clip-path="url(#c14)" stroke="#000" stroke-width="5.6" fill="none" d="M467.7 -29.2L618.3 121.4M467.7 35.5L618.3 186.1M467.7 100.2L618.3 250.8M467.7 164.9L618.3 315.5M467.7 229.6L618.3 380.2M467.7 294.3L618.3 444.9"/>
<path clip-path="url(#c15)" stroke="#000" stroke-width="5.6" fill="none" d="M467.7 72L618.3 -78.6M467.7 136.7L618.3 -13.9M467.7 201.4L618.3 50.8M467.7 266.1L618.3 115.5M467.7 330.8L618.3 180.2M467.7 395.5L618.3 244.9M467.7 460.2L618.3 309.6"/>
<rect x="473" y="252.4" width="140" height="47.9" rx="1.5" fill="#000"/>
<rect x="477.7" y="257" width="130.6" height="38.5" fill="#f6e2fe"/>
<rect x="473" y="326.1" width="140" height="48.7" rx="1.5" fill="#000"/>
<rect x="477.8" y="331.8" width="130.4" height="38.3" fill="#fff"/>
<path clip-path="url(#c16)" fill="#000" shape-rendering="crispEdges" d="M488.73 336.72h4.33v4.11h-4.33zM484.4 340.83h12.99v4.11h-12.99zM480.07 344.94h21.65v4.11h-21.65zM475.75 349.05h30.31v4.11h-30.31zM480.07 353.16h21.65v4.11h-21.65zM484.4 357.27h12.99v4.11h-12.99zM488.73 361.38h4.33v4.11h-4.33zM523.04 336.72h4.33v4.11h-4.33zM518.71 340.83h12.99v4.11h-12.99zM514.38 344.94h21.65v4.11h-21.65zM510.05 349.05h30.31v4.11h-30.31zM514.38 353.16h21.65v4.11h-21.65zM518.71 357.27h12.99v4.11h-12.99zM523.04 361.38h4.33v4.11h-4.33zM557.74 336.72h4.33v4.11h-4.33zM553.4 340.83h12.99v4.11h-12.99zM549.07 344.94h21.65v4.11h-21.65zM544.75 349.05h30.31v4.11h-30.31zM549.07 353.16h21.65v4.11h-21.65zM553.4 357.27h12.99v4.11h-12.99zM557.74 361.38h4.33v4.11h-4.33zM592.34 336.72h4.33v4.11h-4.33zM588 340.83h12.99v4.11h-12.99zM583.67 344.94h21.65v4.11h-21.65zM579.35 349.05h30.31v4.11h-30.31zM583.67 353.16h21.65v4.11h-21.65zM588 357.27h12.99v4.11h-12.99zM592.34 361.38h4.33v4.11h-4.33zM475.75 349.05H506.05v4.11H475.75zM510.05 349.05H540.36v4.11H510.05zM544.75 349.05H575.05v4.11H544.75zM579.35 349.05H609.65v4.11H579.35z"/>
<text x="643.85" y="73.6" font-size="60">Control</text>
<text x="644.56" y="147" font-size="60" dx="0 0 1.2 -1.2 0.5 -0.5">0.131mg/ml</text>
<text x="644.56" y="221.7" font-size="60" dx="0 0 1.2 -1.2">0.155mg/ml</text>
<text x="644.56" y="296.7" font-size="60" dx="0 0 1.2 -1.2 0.5 -0.5">0.181mg/ml</text>
<text x="644.56" y="371.5" font-size="60" dx="0 0 0 0 0.5 -0.5">0.201mg/ml</text>
<rect x="699.17" y="141.72" width="11.57" height="6.28" fill="#fff"/>
<rect x="716.34" y="141.72" width="11.1" height="6.28" fill="#fff"/>
<rect x="765.2" y="141.72" width="11.57" height="6.28" fill="#fff"/>
<rect x="782.37" y="141.72" width="11.1" height="6.28" fill="#fff"/>
<rect x="699.17" y="216.42" width="11.57" height="6.28" fill="#fff"/>
<rect x="716.34" y="216.42" width="11.1" height="6.28" fill="#fff"/>
<rect x="699.17" y="291.42" width="11.57" height="6.28" fill="#fff"/>
<rect x="716.34" y="291.42" width="11.1" height="6.28" fill="#fff"/>
<rect x="765.2" y="291.42" width="11.57" height="6.28" fill="#fff"/>
<rect x="782.37" y="291.42" width="11.1" height="6.28" fill="#fff"/>
<rect x="765.2" y="366.22" width="11.57" height="6.28" fill="#fff"/>
<rect x="782.37" y="366.22" width="11.1" height="6.28" fill="#fff"/>
</g>
<g id="category-labels">
<text x="569.66" y="1899.8" font-size="72">Ae. aegypti</text>
<text x="1242.96" y="1899.8" font-size="72">A.stephensi</text>
<text x="1784.54" y="1895.7" font-size="72">C. quinquefasciatus</text>
</g>
<text id="ytitle" transform="translate(87.2 1359.61) rotate(-90)" font-size="72">Beta carboxylestrase</text>
</svg>
</body>
</html>
